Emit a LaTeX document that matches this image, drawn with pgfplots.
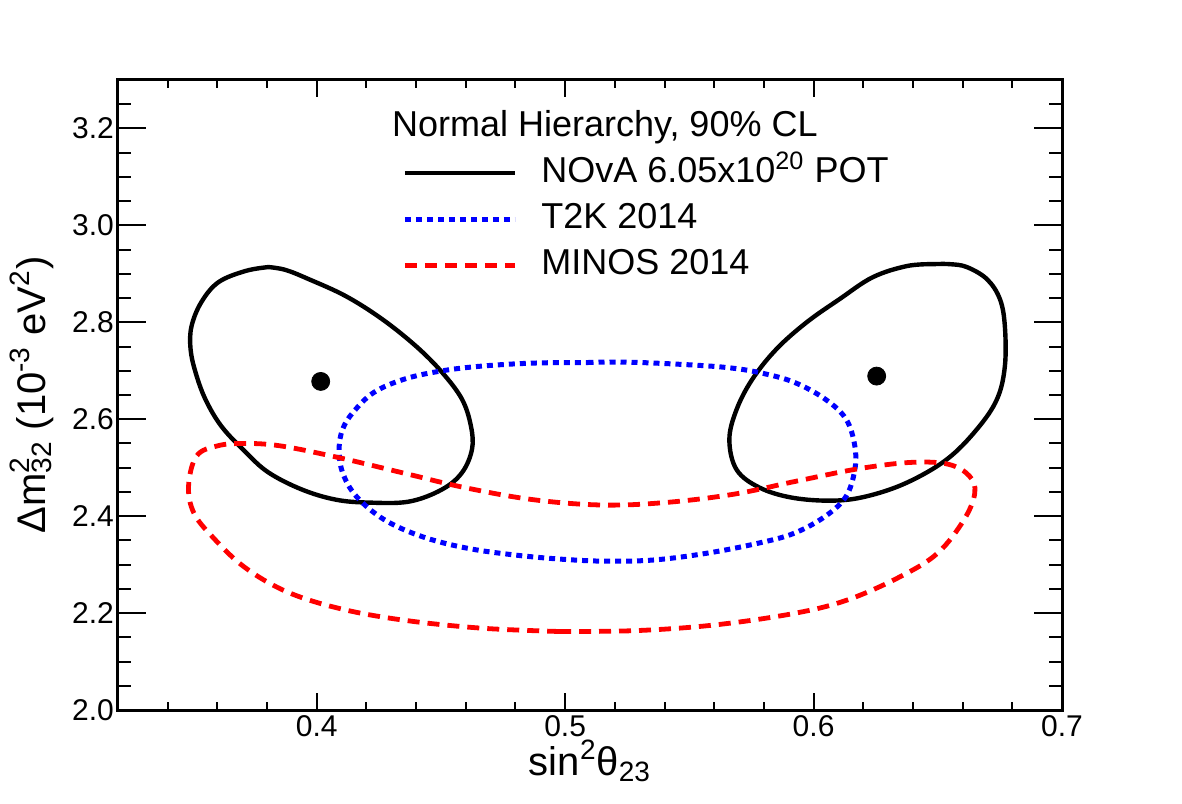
\documentclass[border=0pt]{standalone}
\usepackage{pgfplots}
\pgfplotsset{compat=1.18}
\usepackage{fontspec}
\setmainfont{Liberation Sans}
\begin{document}
\begin{tikzpicture}
\begin{axis}[
 scale only axis, width=472pt, height=315pt,
 xmin=0.32, xmax=0.7, ymin=2.0, ymax=3.3,
 xtick={0.4,0.5,0.6,0.7},
 ytick={2.0,2.2,2.4,2.6,2.8,3.0,3.2},
 minor xtick={0.34,0.36,0.38,0.42,0.44,0.46,0.48,0.52,0.54,0.56,0.58,0.62,0.64,0.66,0.68},
 minor ytick={2.05,2.1,2.15,2.25,2.3,2.35,2.45,2.5,2.55,2.65,2.7,2.75,2.85,2.9,2.95,3.05,3.1,3.15,3.25},
 xticklabels={0.4,0.5,0.6,0.7},
 yticklabels={2.0,2.2,2.4,2.6,2.8,3.0,3.2},
 tick label style={font=\fontsize{15}{18}\selectfont},
 x tick label style={yshift=1pt},
 y tick label style={xshift=1.5pt},
 tick align=inside,
 axis line style={line width=1.5pt},
 major tick length=11pt, minor tick length=5.5pt,
 every tick/.style={black, line width=1pt},
 xtick style={/pgfplots/major tick length=8.5pt,/pgfplots/minor tick length=4pt},
 ytick style={/pgfplots/major tick length=14pt,/pgfplots/minor tick length=6.5pt},
 xlabel={sin\textsuperscript{2}θ\textsubscript{23}},
 xlabel style={at={(axis description cs:0.5,-0.1032)}, anchor=base, font=\fontsize{20}{24}\selectfont},
 ylabel={Δm\rlap{\textsuperscript{2}}\textsubscript{32} (10\textsuperscript{-3} eV\textsuperscript{2})},
 ylabel style={at={(axis description cs:-0.0773,0.5)}, anchor=base, font=\fontsize{20}{24}\selectfont},
 legend style={at={(axis cs:0.4343,3.1437)}, anchor=north west, draw=none, fill=none, inner sep=0pt, row sep=6pt, column sep=12pt, font=\fontsize{18}{21.6}\selectfont, nodes={inner sep=0pt, text height=13pt, text depth=4pt}},
 legend cell align=left,
 legend image code/.code={\draw[#1] (0pt,0pt) -- (55pt,0pt);},
]
\addplot[black, line width=2.2pt, smooth, tension=0.6] coordinates {
(0.3806,2.914) (0.3714,2.906) (0.3605,2.883) (0.3536,2.842) (0.3496,2.792) (0.3492,2.745) (0.3512,2.697) (0.3552,2.641) (0.3617,2.585) (0.3714,2.532) (0.3806,2.490) (0.3940,2.455) (0.4077,2.434) (0.4210,2.428) (0.4371,2.430) (0.4504,2.455) (0.4585,2.490) (0.4625,2.538) (0.4621,2.585) (0.4585,2.641) (0.4504,2.697) (0.4399,2.751) (0.4262,2.807) (0.4117,2.854) (0.3968,2.889) (0.3875,2.908) (0.3806,2.914)};
\addlegendentry{NOvA 6.05x10\textsuperscript{20} POT}
\addplot[black, line width=2.2pt, smooth, tension=0.6, forget plot] coordinates {
(0.6480,2.920) (0.6375,2.916) (0.6238,2.893) (0.6105,2.848) (0.5972,2.800) (0.5851,2.745) (0.5754,2.683) (0.5690,2.620) (0.5661,2.558) (0.5690,2.496) (0.5782,2.459) (0.5915,2.438) (0.6077,2.432) (0.6214,2.441) (0.6375,2.469) (0.6536,2.517) (0.6657,2.579) (0.6738,2.641) (0.6770,2.709) (0.6770,2.792) (0.6750,2.848) (0.6698,2.889) (0.6617,2.914) (0.6548,2.920) (0.6480,2.920)};
\addplot[blue, line width=2.5pt, dash pattern=on 3pt off 2.5pt, smooth, tension=0.6] coordinates {
(0.5090,2.717) (0.5229,2.718) (0.5437,2.714) (0.5645,2.707) (0.5784,2.696) (0.5923,2.676) (0.6048,2.641) (0.6131,2.600) (0.6166,2.545) (0.6166,2.496) (0.6131,2.441) (0.6048,2.400) (0.5923,2.365) (0.5784,2.345) (0.5576,2.324) (0.5367,2.310) (0.5187,2.307) (0.5020,2.310) (0.4812,2.319) (0.4604,2.334) (0.4423,2.358) (0.4271,2.393) (0.4159,2.441) (0.4104,2.490) (0.4090,2.538) (0.4104,2.579) (0.4146,2.614) (0.4229,2.655) (0.4354,2.683) (0.4506,2.700) (0.4673,2.710) (0.4881,2.716) (0.5090,2.717)};
\addlegendentry{T2K 2014}
\addplot[red, line width=2.4pt, dash pattern=on 6pt off 4pt, smooth, tension=0.6] coordinates {
(0.4976,2.162) (0.4659,2.169) (0.4341,2.186) (0.4087,2.210) (0.3875,2.245) (0.3706,2.296) (0.3579,2.358) (0.3505,2.407) (0.3484,2.462) (0.3516,2.524) (0.3600,2.545) (0.3706,2.550) (0.3854,2.545) (0.4087,2.521) (0.4341,2.490) (0.4595,2.459) (0.4871,2.434) (0.5146,2.423) (0.5400,2.428) (0.5675,2.445) (0.5929,2.472) (0.6183,2.498) (0.6395,2.511) (0.6543,2.507) (0.6627,2.483) (0.6649,2.448) (0.6606,2.393) (0.6500,2.324) (0.6352,2.276) (0.6141,2.228) (0.5929,2.200) (0.5611,2.176) (0.5294,2.164) (0.4976,2.162)};
\addlegendentry{MINOS 2014}
\addplot[only marks, mark=*, mark size=4.5pt, black, forget plot] coordinates {(0.4016,2.678) (0.6254,2.689)};
\node[anchor=base west, inner sep=0pt, font=\fontsize{18}{21.6}\selectfont] at (axis cs:0.4302,3.183) {Normal Hierarchy, 90\% CL};
\coordinate (bl) at (rel axis cs:0,0);
\coordinate (tr) at (rel axis cs:1,1);
\end{axis}
\pgfresetboundingbox
\path ([shift={(-59pt,-46.5pt)}]bl) rectangle ([shift={(60pt,40pt)}]tr);
\end{tikzpicture}
\end{document}
